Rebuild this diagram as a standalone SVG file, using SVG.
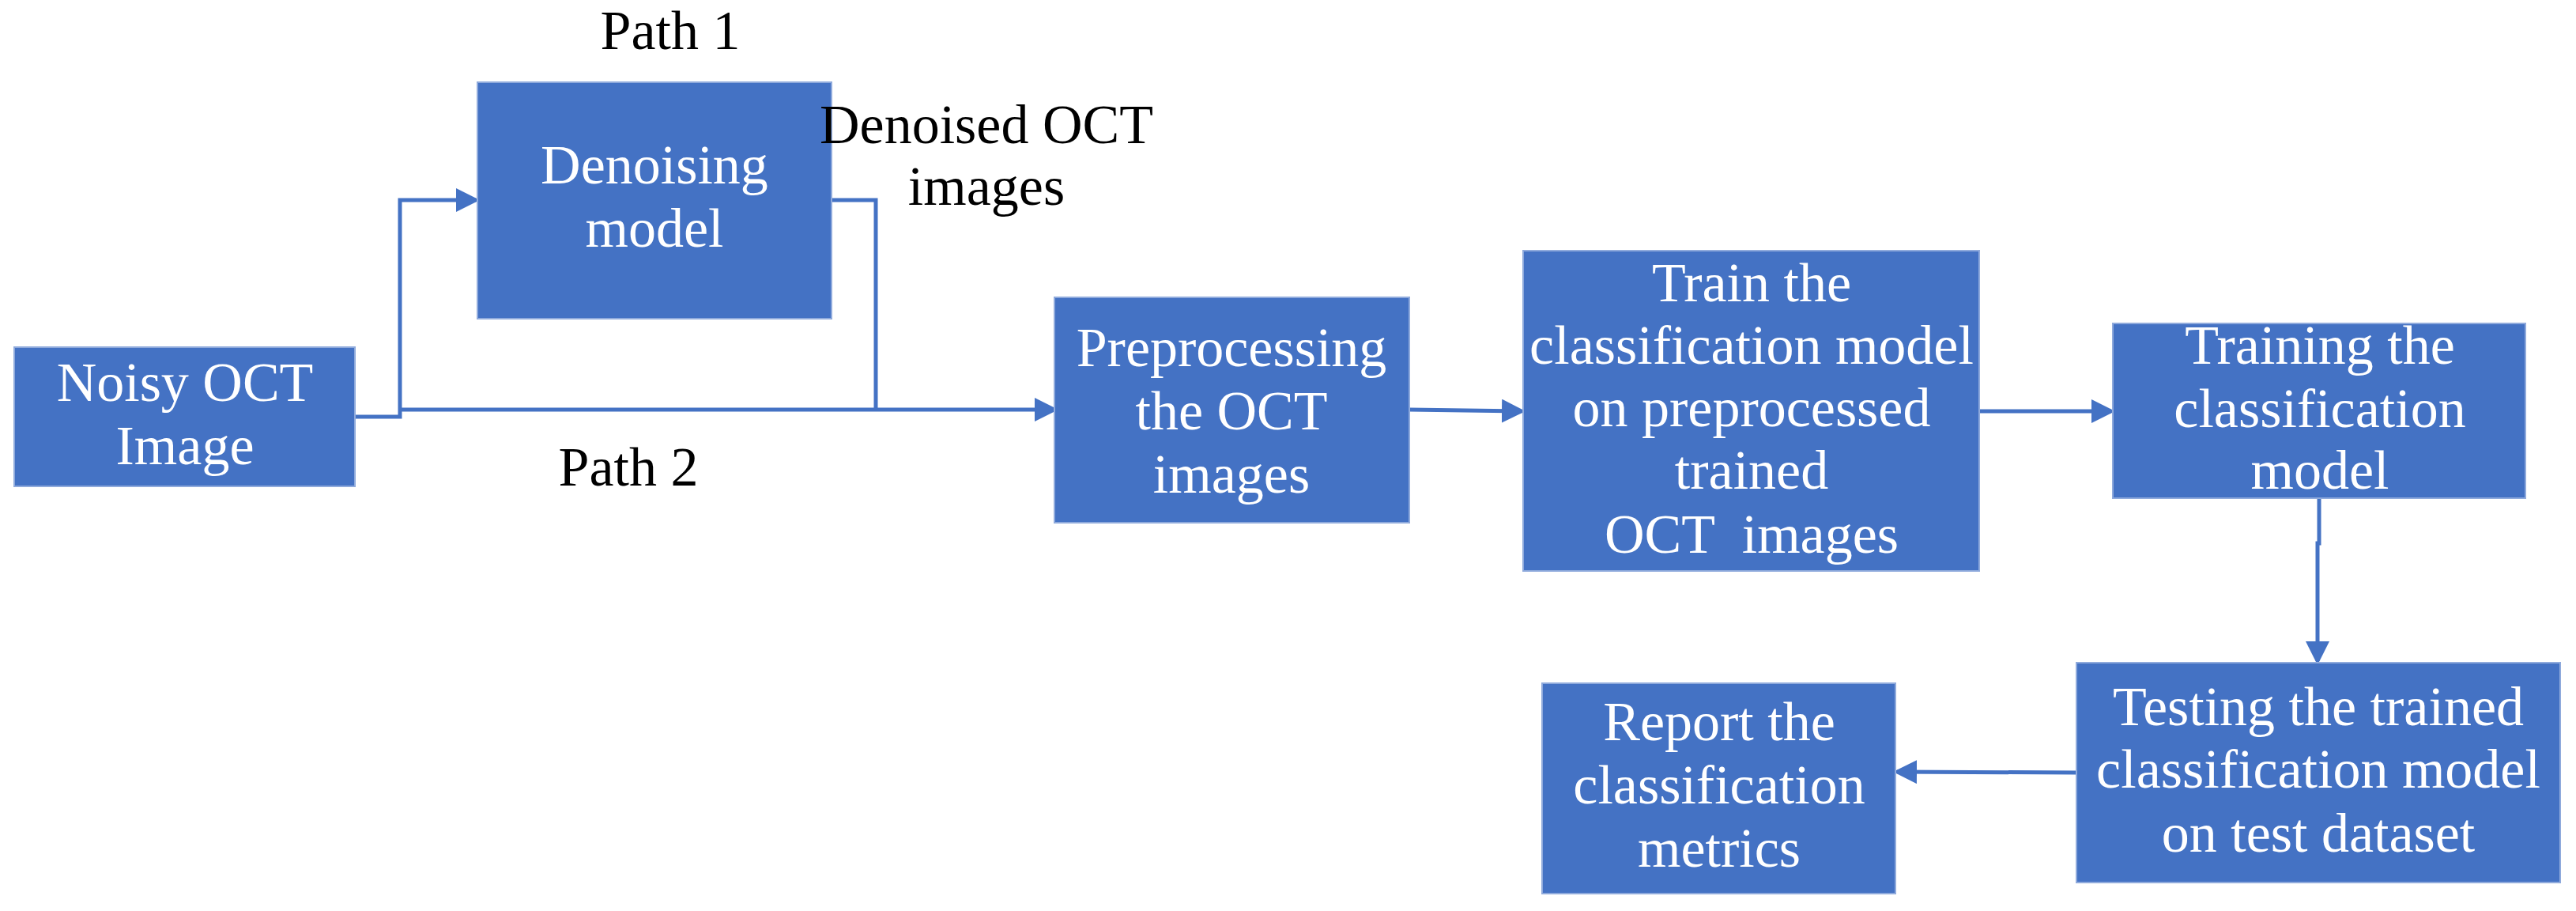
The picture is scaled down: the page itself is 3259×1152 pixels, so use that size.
<svg xmlns="http://www.w3.org/2000/svg" width="3259" height="1152" viewBox="0 0 3259 1152">
<style>
.box{fill:#4472C4;stroke:#8FAADC;stroke-width:2}
.t{font-family:"Liberation Serif",serif;font-size:70px;fill:#fff;text-anchor:middle}
.k{font-family:"Liberation Serif",serif;font-size:70px;fill:#000;text-anchor:middle}
.c{fill:none;stroke:#4472C4;stroke-width:5}
</style>
<defs><marker id="a" markerWidth="6" markerHeight="6" refX="5" refY="3" orient="auto" markerUnits="strokeWidth"><path d="M0,0L6,3L0,6z" fill="#4472C4"/></marker></defs>
<g id="connectors">
<path class="c" d="M449,527H506V253H602" marker-end="url(#a)"/>
<path class="c" d="M506,518H1334" marker-end="url(#a)"/>
<path class="c" d="M1052,253H1108V518"/>
<path class="c" d="M1783,518L1925,520" marker-end="url(#a)"/>
<path class="c" d="M2504,520H2671" marker-end="url(#a)"/>
<path class="c" d="M2934,630V687H2932V836" marker-end="url(#a)"/>
<path class="c" d="M2627,977L2400,976" marker-end="url(#a)"/>
</g>
<g id="n1"><rect class="box" x="18" y="439" width="431" height="176"/><text class="t" x="234" y="507">Noisy OCT</text><text class="t" x="234" y="587">Image</text></g>
<g id="n2"><rect class="box" x="604" y="104" width="448" height="299"/><text class="t" x="828" y="232">Denoising</text><text class="t" x="828" y="312">model</text></g>
<g id="n3"><rect class="box" x="1334" y="376" width="449" height="285"/><text class="t" x="1558" y="463">Preprocessing</text><text class="t" x="1558" y="543">the OCT</text><text class="t" x="1558" y="623">images</text></g>
<g id="n4"><rect class="box" x="1927" y="317" width="577" height="405"/><text class="t" x="2216" y="381">Train the</text><text class="t" x="2216" y="460">classification model</text><text class="t" x="2216" y="539">on preprocessed</text><text class="t" x="2216" y="618">trained</text><text class="t" x="2216" y="699" xml:space="preserve">OCT  images</text></g>
<g id="n5"><rect class="box" x="2673" y="409" width="522" height="221"/><text class="t" x="2935" y="460">Training the</text><text class="t" x="2935" y="540">classification</text><text class="t" x="2935" y="618">model</text></g>
<g id="n6"><rect class="box" x="2627" y="838" width="612" height="278"/><text class="t" x="2933" y="917">Testing the trained</text><text class="t" x="2933" y="996">classification model</text><text class="t" x="2933" y="1077">on test dataset</text></g>
<g id="n7"><rect class="box" x="1951" y="864" width="447" height="266"/><text class="t" x="2175" y="936">Report the</text><text class="t" x="2175" y="1016">classification</text><text class="t" x="2175" y="1096">metrics</text></g>
<g id="labels">
<text class="k" x="848" y="62">Path 1</text>
<text class="k" x="1248" y="181">Denoised OCT</text>
<text class="k" x="1248" y="259">images</text>
<text class="k" x="795" y="614">Path 2</text>
</g>
</svg>
